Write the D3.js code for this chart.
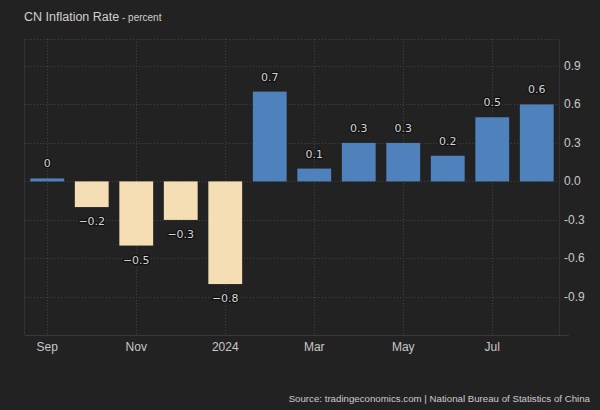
<!DOCTYPE html>
<html><head><meta charset="utf-8">
<script src="https://cdn.jsdelivr.net/npm/d3@7"></script>
<style>
html,body{margin:0;padding:0;background:#222222;}
svg{display:block;}
</style></head>
<body>
<svg id="chart" width="600" height="410"></svg>
<script>
const months = ["Sep","Oct","Nov","Dec","Jan","Feb","Mar","Apr","May","Jun","Jul","Aug"];
const values = [0, -0.2, -0.5, -0.3, -0.8, 0.7, 0.1, 0.3, 0.3, 0.2, 0.5, 0.6];
const valueLabels = ["0","\u22120.2","\u22120.5","\u22120.3","\u22120.8","0.7","0.1","0.3","0.3","0.2","0.5","0.6"];
const xTickLabels = ["Sep","","Nov","","2024","","Mar","","May","","Jul",""];
const yTicks = [-0.9, -0.6, -0.3, 0, 0.3, 0.6, 0.9];
const yTickLabels = ["-0.9","-0.6","-0.3","0.0","0.3","0.6","0.9"];

const W = 600, H = 410;
const L = 25, R = 559, T = 39, B = 335;
const svg = d3.select("#chart");
svg.append("rect").attr("width",W).attr("height",H).attr("fill","#222222");

const x = d3.scaleBand().domain(months).range([L, R]).paddingInner(0.24).paddingOuter(0.12);
const y = d3.scaleLinear().domain([-1.197, 1.11]).range([B, T]);

const grid = svg.append("g");
grid.selectAll("line.h").data(yTicks).join("line")
  .attr("x1", L).attr("x2", R)
  .attr("y1", d => Math.round(y(d)) + 0.5).attr("y2", d => Math.round(y(d)) + 0.5)
  .attr("stroke", "#424242").attr("stroke-dasharray", "1,2");
const labelled = months.filter((m,i) => xTickLabels[i] !== "");
grid.selectAll("line.v").data(labelled).join("line")
  .attr("x1", d => Math.round(x(d) + x.bandwidth()/2) + 0.5)
  .attr("x2", d => Math.round(x(d) + x.bandwidth()/2) + 0.5)
  .attr("y1", T).attr("y2", B)
  .attr("stroke", "#424242").attr("stroke-dasharray", "1,2");
grid.append("line").attr("x1", L).attr("x2", R).attr("y1", T + 0.5).attr("y2", T + 0.5)
  .attr("stroke", "#424242").attr("stroke-dasharray", "1,2");
grid.append("line").attr("x1", L - 0.5).attr("x2", L - 0.5).attr("y1", T).attr("y2", B)
  .attr("stroke", "#333333");
grid.append("line").attr("x1", R + 0.5).attr("x2", R + 0.5).attr("y1", T).attr("y2", B)
  .attr("stroke", "#333333");
grid.append("line").attr("x1", L).attr("x2", 569).attr("y1", B + 0.5).attr("y2", B + 0.5)
  .attr("stroke", "#3a3a3a");

const data = months.map((m,i) => ({m, v: values[i], lab: valueLabels[i]}));
svg.append("g").selectAll("rect").data(data).join("rect")
  .attr("x", d => x(d.m))
  .attr("width", x.bandwidth())
  .attr("y", d => d.v >= 0 ? Math.min(y(d.v), y(0) - 3) : y(0))
  .attr("height", d => Math.max(Math.abs(y(d.v) - y(0)), 3))
  .attr("fill", d => d.v >= 0 ? "#4f81bd" : "#f5deb3");

svg.append("g").selectAll("text").data(data).join("text")
  .attr("x", d => x(d.m) + x.bandwidth()/2)
  .attr("y", d => d.v >= 0 ? Math.min(y(d.v), y(0) - 3) - 11 : y(d.v) + 18)
  .attr("text-anchor", "middle")
  .attr("font-family", "DejaVu Sans, sans-serif")
  .attr("font-size", "11px")
  .attr("fill", "#d4d4d4")
  .attr("stroke", "#111111").attr("stroke-width", 2.5).attr("stroke-linejoin", "round")
  .attr("paint-order", "stroke")
  .text(d => d.lab);

svg.append("g").selectAll("text").data(yTicks).join("text")
  .attr("x", 564)
  .attr("y", d => y(d) + 4)
  .attr("font-family", "Liberation Sans, Arial, sans-serif")
  .attr("font-size", "12px")
  .attr("fill", "#c8c8c8")
  .text((d,i) => yTickLabels[i]);

svg.append("g").selectAll("text").data(months.map((m,i)=>({m, t: xTickLabels[i]})).filter(d => d.t !== "")).join("text")
  .attr("x", d => x(d.m) + x.bandwidth()/2)
  .attr("y", 351)
  .attr("text-anchor", "middle")
  .attr("font-family", "Liberation Sans, Arial, sans-serif")
  .attr("font-size", "12px")
  .attr("fill", "#c8c8c8")
  .text(d => d.t);

const title = svg.append("text").attr("x", 24).attr("y", 21)
  .attr("font-family", "Liberation Sans, Arial, sans-serif").attr("fill", "#d0d0d0");
title.append("tspan").attr("font-size", "12.5px").text("CN Inflation Rate");
title.append("tspan").attr("font-size", "10px").text(" - percent");

svg.append("text").attr("x", 590).attr("y", 402).attr("text-anchor", "end")
  .attr("font-family", "Liberation Sans, Arial, sans-serif").attr("font-size", "9.7px")
  .attr("fill", "#cccccc")
  .text("Source: tradingeconomics.com | National Bureau of Statistics of China");
</script>
</body></html>
